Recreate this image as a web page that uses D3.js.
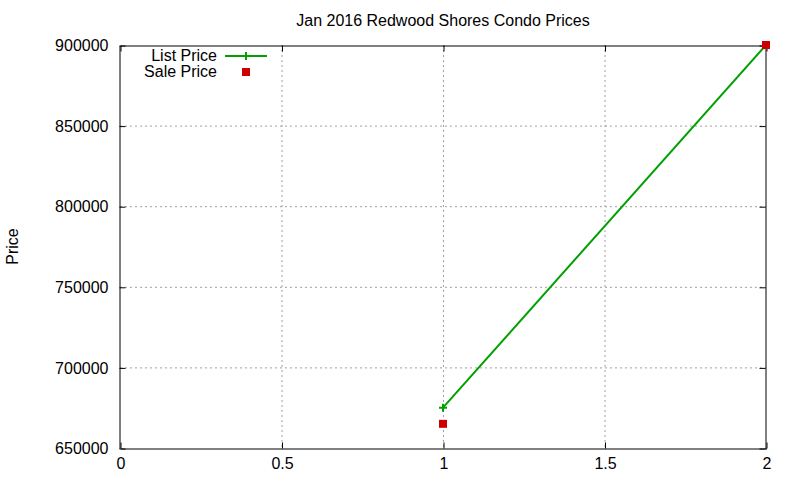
<!DOCTYPE html>
<html>
<head>
<meta charset="utf-8">
<script src="https://cdn.jsdelivr.net/npm/d3@7"></script>
<style>
  body { margin: 0; background: #fff; }
  svg text { font-family: "Liberation Sans", Arial, sans-serif; fill: #000; }
</style>
</head>
<body>
<div id="chart"></div>
<script>
// Data
const xValues = [1, 2];
const listPrice = [675000, 900000];
const salePrice = [665000, 900000];
const xTicks = [0, 0.5, 1, 1.5, 2];
const yTicks = [650000, 700000, 750000, 800000, 850000, 900000];

const width = 800, height = 480;
const margin = { top: 45, right: 34, bottom: 32, left: 120 };
const fontSize = '16px';

const svg = d3.select('#chart').append('svg')
    .attr('width', width)
    .attr('height', height);

const x = d3.scaleLinear().domain([0, 2]).range([margin.left, width - margin.right]);
const y = d3.scaleLinear().domain([650000, 900000]).range([height - margin.bottom, margin.top]);

// Grid
const grid = svg.append('g').attr('stroke', '#a0a0a0').attr('stroke-dasharray', '2,3').attr('stroke-width', 1);
xTicks.slice(1, -1).forEach(t => {
    grid.append('line').attr('x1', x(t) + 0.5).attr('x2', x(t) + 0.5)
        .attr('y1', margin.top).attr('y2', height - margin.bottom);
});
yTicks.slice(1, -1).forEach(t => {
    grid.append('line').attr('y1', y(t) + 0.5).attr('y2', y(t) + 0.5)
        .attr('x1', margin.left).attr('x2', width - margin.right);
});

// Axes (gnuplot style: ticks inward, mirrored)
const xAxis = svg.append('g')
    .attr('transform', `translate(0.5, ${height - margin.bottom + 0.5})`)
    .call(d3.axisBottom(x).tickValues(xTicks).tickSizeInner(-6).tickSizeOuter(0).tickPadding(9).tickFormat(d3.format('')));
const xAxisTop = svg.append('g')
    .attr('transform', `translate(0.5, ${margin.top + 0.5})`)
    .call(d3.axisTop(x).tickValues(xTicks).tickSizeInner(-6).tickSizeOuter(0).tickFormat(''));
const yAxis = svg.append('g')
    .attr('transform', `translate(${margin.left - 0.5}, 0.5)`)
    .call(d3.axisLeft(y).tickValues(yTicks).tickSizeInner(-6).tickSizeOuter(0).tickPadding(11).tickFormat(d3.format('d')));
const yAxisRight = svg.append('g')
    .attr('transform', `translate(${width - margin.right - 0.5}, 0.5)`)
    .call(d3.axisRight(y).tickValues(yTicks).tickSizeInner(-6).tickSizeOuter(0).tickFormat(''));

[xAxis, xAxisTop, yAxis, yAxisRight].forEach(g => {
    g.selectAll('path, line').attr('stroke', '#000');
    g.selectAll('text').style('font-size', fontSize).attr('fill', '#000');
});

// Title
svg.append('text')
    .attr('x', x(1))
    .attr('y', 26)
    .attr('text-anchor', 'middle')
    .style('font-size', fontSize)
    .text('Jan 2016 Redwood Shores Condo Prices');

// Y label
svg.append('text')
    .attr('transform', `translate(18, ${(margin.top + height - margin.bottom) / 2}) rotate(-90)`)
    .attr('text-anchor', 'middle')
    .style('font-size', fontSize)
    .text('Price');

// List price line
const line = d3.line().x((d, i) => x(xValues[i])).y(d => y(d));
svg.append('path')
    .datum(listPrice)
    .attr('d', line)
    .attr('fill', 'none')
    .attr('stroke', '#00a000')
    .attr('stroke-width', 2);

const plus = (g, cx, cy) => {
    g.append('path')
        .attr('d', `M${cx - 4},${cy}H${cx + 4}M${cx},${cy - 4}V${cy + 4}`)
        .attr('stroke', '#00a000')
        .attr('stroke-width', 2);
};
listPrice.forEach((v, i) => plus(svg, x(xValues[i]), y(v)));

// Sale price points
svg.selectAll('.sale')
    .data(salePrice)
    .enter()
    .append('rect')
    .attr('class', 'sale')
    .attr('x', (d, i) => x(xValues[i]) - 4)
    .attr('y', d => y(d) - 4)
    .attr('width', 8)
    .attr('height', 8)
    .attr('fill', '#cc0000');

// Legend
const legend = svg.append('g');
legend.append('text').attr('x', 217).attr('y', 61).attr('text-anchor', 'end')
    .style('font-size', fontSize).text('List Price');
legend.append('line').attr('x1', 225).attr('x2', 267).attr('y1', 56).attr('y2', 56)
    .attr('stroke', '#00a000').attr('stroke-width', 2);
plus(legend, 246, 56);
legend.append('text').attr('x', 217).attr('y', 77).attr('text-anchor', 'end')
    .style('font-size', fontSize).text('Sale Price');
legend.append('rect').attr('x', 242).attr('y', 68).attr('width', 8).attr('height', 8)
    .attr('fill', '#cc0000');
</script>
</body>
</html>
